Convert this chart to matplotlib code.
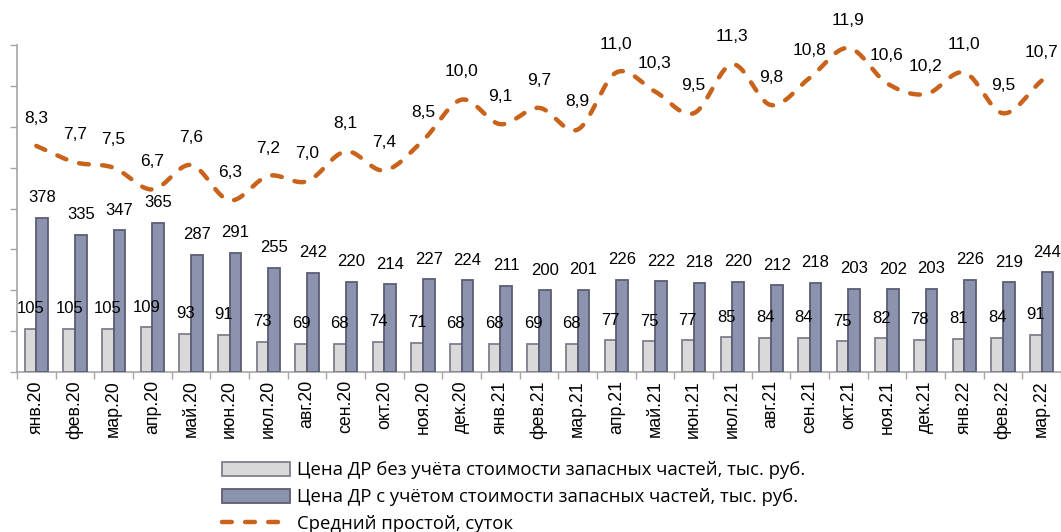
import numpy as np
import matplotlib
matplotlib.use('Agg')
import matplotlib.pyplot as plt
from matplotlib.patches import Patch
from matplotlib.lines import Line2D

# Data
months = ['янв.20', 'фев.20', 'мар.20', 'апр.20', 'май.20', 'июн.20', 'июл.20', 'авг.20', 'сен.20',
          'окт.20', 'ноя.20', 'дек.20', 'янв.21', 'фев.21', 'мар.21', 'апр.21', 'май.21', 'июн.21',
          'июл.21', 'авг.21', 'сен.21', 'окт.21', 'ноя.21', 'дек.21', 'янв.22', 'фев.22', 'мар.22']
price_no_parts = [105, 105, 105, 109, 93, 91, 73, 69, 68, 74, 71, 68, 68, 69, 68, 77, 75, 77,
                  85, 84, 84, 75, 82, 78, 81, 84, 91]
price_with_parts = [378, 335, 347, 365, 287, 291, 255, 242, 220, 214, 227, 224, 211, 200, 201, 226,
                    222, 218, 220, 212, 218, 203, 202, 203, 226, 219, 244]
downtime = [8.3, 7.7, 7.5, 6.7, 7.6, 6.3, 7.2, 7.0, 8.1, 7.4, 8.5, 10.0, 9.1, 9.7, 8.9, 11.0, 10.3,
            9.5, 11.3, 9.8, 10.8, 11.9, 10.6, 10.2, 11.0, 9.5, 10.7]

label_no_parts = 'Цена ДР без учёта стоимости запасных частей, тыс. руб.'
label_with_parts = 'Цена ДР с учётом стоимости запасных частей, тыс. руб.'
label_downtime = 'Средний простой, суток'

c_light, e_light = '#D9D9D9', '#7E7E8E'
c_dark, e_dark = '#8C93AE', '#5C5D74'
c_line = '#C9621A'
c_axis = '#A6A6A6'

plt.rcParams['font.family'] = ['Liberation Sans', 'DejaVu Sans']


def smooth(x, y, n=20):
    # Catmull-Rom smoothing, similar to the spreadsheet "smoothed line" option
    x = np.asarray(x, float)
    y = np.asarray(y, float)
    px = np.concatenate([[2 * x[0] - x[1]], x, [2 * x[-1] - x[-2]]])
    py = np.concatenate([[2 * y[0] - y[1]], y, [2 * y[-1] - y[-2]]])
    xs, ys = [], []
    t = np.linspace(0, 1, n, endpoint=False)
    for i in range(1, len(px) - 2):
        for arr, out in ((px, xs), (py, ys)):
            p0, p1, p2, p3 = arr[i - 1], arr[i], arr[i + 1], arr[i + 2]
            out.extend(0.5 * (2 * p1 + (-p0 + p2) * t + (2 * p0 - 5 * p1 + 4 * p2 - p3) * t ** 2
                              + (-p0 + 3 * p1 - 3 * p2 + p3) * t ** 3))
    xs.append(x[-1])
    ys.append(y[-1])
    return np.array(xs), np.array(ys)


fig = plt.figure(figsize=(10.61, 5.32), dpi=100)
ax = fig.add_axes([0.016, 0.301, 0.984, 0.614])

x = np.arange(len(months))
w = 0.3
ax.bar(x - w / 2, price_no_parts, w, color=c_light, edgecolor=e_light, linewidth=1.3, zorder=3)
ax.bar(x + w / 2, price_with_parts, w, color=c_dark, edgecolor=e_dark, linewidth=1.3, zorder=3)

for i in range(len(months)):
    ax.annotate(f'{price_no_parts[i]}', (x[i] - w / 2, price_no_parts[i]), xytext=(0, 14.5),
                textcoords='offset points', ha='center', va='center', fontsize=12)
    ax.annotate(f'{price_with_parts[i]}', (x[i] + w / 2, price_with_parts[i]), xytext=(0, 14.5),
                textcoords='offset points', ha='center', va='center', fontsize=12)

ax.set_ylim(0, 800)
ax.set_xlim(-0.5, len(months) - 0.5)
ax.set_yticks(np.arange(0, 801, 100))
ax.set_yticklabels([])
ax.set_xticks(x)
ax.set_xticklabels(months, rotation=90, fontsize=12.8)
ax.set_xticks(np.arange(-0.5, len(months), 1), minor=True)
ax.tick_params(axis='x', which='major', length=0, pad=6)
ax.tick_params(axis='x', which='minor', length=5, color=c_axis, width=1)
ax.tick_params(axis='y', length=5, color=c_axis, width=1)
for s in ['top', 'right']:
    ax.spines[s].set_visible(False)
for s in ['left', 'bottom']:
    ax.spines[s].set_color(c_axis)
    ax.spines[s].set_linewidth(1.2)

ax2 = ax.twinx()
ax2.set_ylim(0, 12)
ax2.axis('off')
sx, sy = smooth(x, downtime)
ax2.plot(sx, sy, color=c_line, linewidth=3.2, linestyle=(0, (2.2, 3.0)),
         dash_capstyle='round', zorder=4)
for i in range(len(months)):
    ax2.annotate(f'{downtime[i]:.1f}'.replace('.', ','), (x[i], downtime[i]), xytext=(0, 20),
                 textcoords='offset points', ha='center', va='center', fontsize=12.5)

handles = [Patch(facecolor=c_light, edgecolor=e_light, linewidth=1.3, label=label_no_parts),
           Patch(facecolor=c_dark, edgecolor=e_dark, linewidth=1.3, label=label_with_parts),
           Line2D([0], [0], color=c_line, linewidth=3.2, linestyle=(0, (2.2, 3.0)),
                  dash_capstyle='round', label=label_downtime)]
leg = fig.legend(handles=handles, loc='upper left', bbox_to_anchor=(0.209, 0.133),
                 frameon=False, handlelength=3.7, handleheight=0.8, handletextpad=0.4,
                 labelspacing=0.48, borderaxespad=0, borderpad=0,
                 prop={'family': ['Open Sans', 'DejaVu Sans'], 'size': 13.3})

fig.savefig('out.png', dpi=100)
